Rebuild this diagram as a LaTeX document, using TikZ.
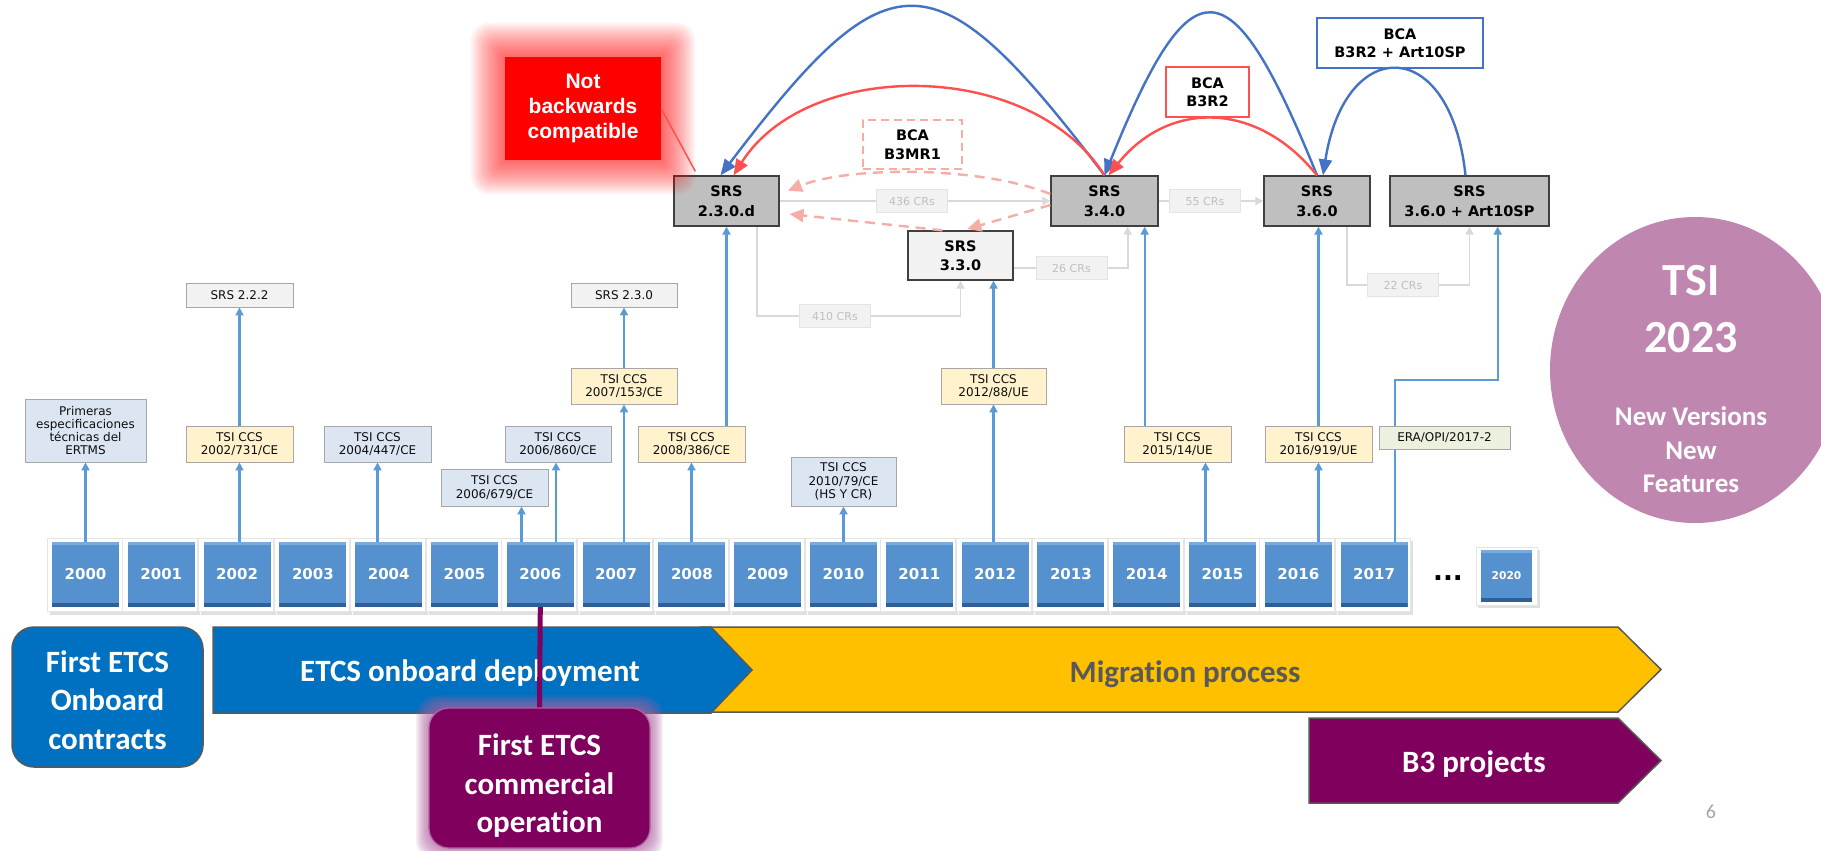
\documentclass[tikz,border=0pt]{standalone}
\usepackage{fontspec}
\setmainfont{DejaVu Sans}
\newfontfamily\calf{Carlito}[Ligatures=NoCommon]
\newfontfamily\arf{Liberation Sans}
\usetikzlibrary{arrows.meta,shapes.geometric,calc}
\definecolor{etcsblue}{HTML}{0070C0}
\definecolor{migyel}{HTML}{FFC000}
\definecolor{migtext}{HTML}{595959}
\definecolor{b3purple}{HTML}{80005E}
\definecolor{comglow}{HTML}{B060A0}
\definecolor{edge}{HTML}{595959}
\definecolor{yrblue}{HTML}{5591CE}
\definecolor{yrdark}{HTML}{2F5F93}
\definecolor{yrlight}{HTML}{7AAADB}
\definecolor{tsipink}{HTML}{BF87AF}
\definecolor{arcblue}{HTML}{4472C4}
\definecolor{arcred}{HTML}{FF4F4F}
\definecolor{pale}{HTML}{F6ADA5}
\definecolor{upblue}{HTML}{5B9BD5}
\definecolor{crgray}{HTML}{D9D9D9}
\definecolor{crfill}{HTML}{F2F2F2}
\definecolor{crborder}{HTML}{E4E4E4}
\definecolor{crtext}{HTML}{BFBFBF}
\definecolor{lb}{HTML}{DCE6F2}
\definecolor{yl}{HTML}{FFF2CC}
\definecolor{gr}{HTML}{F2F2F2}
\definecolor{gn}{HTML}{EBF1DE}
\definecolor{smborder}{HTML}{A6A6A6}
\definecolor{smtext}{HTML}{0D0D0D}
\definecolor{srsgray}{HTML}{BFBFBF}
\definecolor{srslight}{HTML}{F2F2F2}
\definecolor{srsborder}{HTML}{404040}
\definecolor{bcared}{HTML}{FF5050}
\begin{document}
\begin{tikzpicture}[x=1pt,y=-1pt,
  srs/.style={draw=srsborder, line width=1.3pt, fill=srsgray, font=\bfseries\fontsize{14.5}{19.5}\selectfont, align=center, inner sep=0pt, minimum height=50pt},
  sm/.style={draw=smborder, line width=0.9pt, font=\fontsize{12}{13.3}\selectfont, text=smtext, align=center, inner sep=0pt, minimum width=107pt, minimum height=36pt},
  crl/.style={fill=crfill, draw=crborder, line width=1pt, text=crtext, font=\fontsize{11}{13}\selectfont, inner sep=0pt, minimum width=71pt, minimum height=23pt},
  upa/.style={draw=upblue, line width=2.2pt, -{Triangle[length=8pt,width=8pt]}},
  crline/.style={draw=crgray, line width=1.8pt},
  cra/.style={crline, -{Triangle[length=8pt,width=8pt]}},
  bca/.style={fill=white, line width=2pt, font=\bfseries\fontsize{14.5}{18.5}\selectfont, align=center, inner sep=0pt, minimum height=50pt},
  bigarc/.style={line width=2.4pt, -{Triangle[length=16pt,width=13pt]}},
  dsh/.style={draw=pale, line width=2.4pt, dash pattern=on 10pt off 7pt, -{Triangle[length=14pt,width=13pt]}},
  yr/.style={fill=yrblue, text=white, font=\bfseries\fontsize{15}{18}\selectfont, minimum width=67pt, minimum height=65pt, inner sep=0pt,
     path picture={\fill[yrdark] (path picture bounding box.south west) rectangle ([yshift=4pt]path picture bounding box.south east);
                   \fill[yrlight] (path picture bounding box.north west) rectangle ([yshift=-3pt]path picture bounding box.north east);}},
  bigtxt/.style={font=\calf\bfseries\fontsize{31}{38.5}\selectfont, inner sep=0pt},
  tsit/.style={text=white, inner sep=0pt, anchor=base}
]
\useasboundingbox (0,0) rectangle (1821,851);
\clip (0,0) rectangle (1821,851);
\fill[white] (0,0) rectangle (1821,851);

% ---------- SRS boxes ----------
\node[srs, minimum width=105pt] (srs230d) at (726.5,201) {SRS\\2.3.0.d};
\node[srs, minimum width=107pt] (srs340) at (1104.5,201) {SRS\\3.4.0};
\node[srs, fill=srslight, minimum width=105pt, minimum height=49pt] (srs330) at (960.5,255.5) {SRS\\3.3.0};
\node[srs, minimum width=106pt] (srs360) at (1317,201) {SRS\\3.6.0};
\node[srs, minimum width=159pt] (srsart) at (1469.5,201) {SRS\\3.6.0 + Art10SP};

% ---------- CR connectors ----------
\node[crl] (cr436) at (912,201) {436 CRs};
\node[crl] (cr55) at (1205,201) {55 CRs};
\node[crl] (cr410) at (835,316) {410 CRs};
\node[crl] (cr26) at (1071.5,268) {26 CRs};
\node[crl] (cr22) at (1403,285) {22 CRs};
\draw[crline] (srs230d.east) -- (cr436.west);
\draw[cra] (cr436.east) -- (srs340.west);
\draw[crline] (srs340.east) -- (cr55.west);
\draw[cra] (cr55.east) -- (srs360.west);
\draw[crline] ($(srs230d.south east)+(-23,0)$) |- (cr410.west);
\draw[cra] (cr410.east) -| (srs330.south);
\draw[crline] (srs330.east |- cr26.west) -- (cr26.west);
\draw[cra] (cr26.east) -| ($(srs340.south east)+(-31,0)$);
\draw[crline] ($(srs360.south east)+(-24,0)$) |- (cr22.west);
\draw[cra] (cr22.east) -| (srsart.south);

% ---------- BCA boxes ----------
\node[bca, draw=pale, dash pattern=on 8pt off 5pt, minimum width=99pt, minimum height=49pt] (bca1) at (912.5,144.5) {BCA\\B3MR1};
\node[bca, draw=bcared, minimum width=83pt] (bca2) at (1207.5,92) {BCA\\B3R2};
\node[bca, draw=arcblue, minimum width=166pt] (bca3) at (1400,43) {BCA\\B3R2 + Art10SP};

% dashed pale arrows
\draw[dsh, shorten >=9pt] ($(srs340.west)+(0,-7)$) .. controls +(-70,-28) and +(70,-28) .. ($(srs230d.east)+(0,-7)$);
\draw[dsh, shorten >=5pt] ($(srs340.west)+(0,4)$) -- ($(srs330.north)+(2,0)$);
\draw[dsh, shorten >=10pt] ($(srs330.north)+(-18,0)$) -- ($(srs230d.east)+(0,12)$);

% ---------- Not backwards compatible (glow) ----------
\foreach \k in {1,...,18} {\fill[red, opacity=0.045, rounded corners=\k pt] (505-1.9*\k,57-1.9*\k) rectangle (661+1.9*\k,160+1.9*\k);}
\node[fill=red, text=white, font=\arf\bfseries\fontsize{21}{25}\selectfont, align=center, minimum width=156pt, minimum height=103pt, inner sep=0pt] (nbc) at (583,108.5) {Not\\backwards\\compatible};
\draw[arcred, line width=1.5pt] (nbc.east) -- ($(srs230d.north west)+(22,-4)$);

% big arcs
\draw[bigarc, arcblue] (srs340.north) .. controls +(-170,-224) and +(170,-224) .. ($(srs230d.north)+(-6,0)$);
\draw[bigarc, arcred] (srs340.north) .. controls +(-74,-117) and +(74,-117) .. ($(srs230d.north)+(7,0)$);
\draw[bigarc, arcblue] (srs360.north) .. controls +(-87,-215) and +(87,-215) .. (srs340.north);
\draw[bigarc, arcred] (srs360.north) .. controls +(-60,-75) and +(60,-75) .. ($(srs340.north)+(4,0)$);
\draw[bigarc, arcblue] ($(srsart.north)+(-4,0)$) .. controls +(-15,-141) and +(22,-141) .. ($(srs360.north)+(6,0)$);

% ---------- year boxes ----------
\foreach \i in {0,...,17} {
  \pgfmathsetmacro\cx{85.5+75.8*\i}
  \pgfmathtruncatemacro\yr{2000+\i}
  \fill[black!12] (\cx-36,541) rectangle (\cx+39,615);
  \fill[white] (\cx-38.5,538) rectangle (\cx+36.5,611);
  \draw[black!10, line width=0.8pt] (\cx-38.5,538) rectangle (\cx+36.5,611);
  \node[yr] (y\yr) at (\cx,574.5) {\yr};
}
\fill[black!12] (1478,550) rectangle (1540,608);
\fill[white] (1476,547) rectangle (1537,605);
\draw[black!10, line width=0.8pt] (1476,547) rectangle (1537,605);
\node[yr, minimum width=51pt, minimum height=52pt, font=\bfseries\fontsize{10.7}{12}\selectfont] (y2020) at (1506.5,576) {2020};
\node[font=\bfseries\fontsize{26}{28}\selectfont, inner sep=0pt] (dots) at (1448,578) {...};

% ERA elbow line (under the ERA box)
\coordinate (elb) at (1395,380);
\draw[upa] (elb |- y2017.north) -- (elb) -| ($(srsart.south east)+(-52,0)$);

% ---------- small boxes ----------
\node[sm, fill=lb, minimum width=121pt, minimum height=63pt] (prim) at (85.5,430.5) {Primeras\\especificaciones\\técnicas del\\ERTMS};
\node[sm, fill=gr, minimum height=24pt] (srs222) at (239.5,295) {SRS 2.2.2};
\node[sm, fill=yl] (tsi2002) at (239.5,444) {TSI CCS\\2002/731/CE};
\node[sm, fill=lb] (tsi2004) at (377.5,444) {TSI CCS\\2004/447/CE};
\node[sm, fill=lb, minimum height=37pt] (tsi2006a) at (494.5,487.5) {TSI CCS\\2006/679/CE};
\node[sm, fill=lb, minimum width=106pt] (tsi2006b) at (558,444) {TSI CCS\\2006/860/CE};
\node[sm, fill=gr, minimum width=106pt, minimum height=24pt] (srs230) at (624,295) {SRS 2.3.0};
\node[sm, fill=yl, minimum width=106pt] (tsi2007) at (624,386) {TSI CCS\\2007/153/CE};
\node[sm, fill=yl] (tsi2008) at (691.5,444) {TSI CCS\\2008/386/CE};
\node[sm, fill=lb, minimum width=105pt, minimum height=49pt] (tsi2010) at (843.5,481.5) {TSI CCS\\2010/79/CE\\(HS Y CR)};
\node[sm, fill=yl, minimum width=105pt] (tsi2012) at (993.5,386) {TSI CCS\\2012/88/UE};
\node[sm, fill=yl] (tsi2015) at (1177.5,444) {TSI CCS\\2015/14/UE};
\node[sm, fill=yl] (tsi2016) at (1318.5,444) {TSI CCS\\2016/919/UE};
\node[sm, fill=gn, minimum width=131pt, minimum height=23pt] (era) at (1444.5,437.5) {ERA/OPI/2017-2};

% ---------- blue arrows ----------
\draw[upa] (prim.south |- y2000.north) -- (prim.south);
\draw[upa] (tsi2002.south |- y2002.north) -- (tsi2002.south);
\draw[upa] (tsi2002.north) -- (srs222.south);
\draw[upa] (tsi2004.south |- y2004.north) -- (tsi2004.south);
\draw[upa] ($(tsi2006a.south |- y2006.north)+(27,0)$) -- ($(tsi2006a.south)+(27,0)$);
\draw[upa] ($(tsi2006b.south |- y2006.north)+(-2,0)$) -- ($(tsi2006b.south)+(-2,0)$);
\draw[upa] (tsi2007.south |- y2007.north) -- (tsi2007.south);
\draw[upa] (tsi2007.north) -- (srs230.south);
\draw[upa] (tsi2008.south |- y2008.north) -- (tsi2008.south);
\draw[upa] (srs230d.south |- tsi2008.north) -- (srs230d.south);
\draw[upa] (tsi2010.south |- y2010.north) -- (tsi2010.south);
\draw[upa] (tsi2012.south |- y2012.north) -- (tsi2012.south);
\draw[upa] (tsi2012.north) -- (tsi2012.north |- srs330.south);
\draw[upa] ($(tsi2015.south |- y2015.north)+(28,0)$) -- ($(tsi2015.south)+(28,0)$);
\draw[upa] ($(srs340.south east |- tsi2015.north)+(-14,0)$) -- ($(srs340.south east)+(-14,0)$);
\draw[upa] (tsi2016.south |- y2016.north) -- (tsi2016.south);
\draw[upa] (tsi2016.north) -- (tsi2016.north |- srs360.south);

% ---------- TSI 2023 ----------
\node[ellipse, fill=tsipink, minimum width=290pt, minimum height=306pt, inner sep=0pt] (tsi) at (1695,370) {};
\node[tsit, font=\calf\bfseries\fontsize{46}{50}\selectfont] (tsia) at (1691,295) {TSI};
\node[tsit, font=\calf\bfseries\fontsize{46}{50}\selectfont] (tsib) at (1691,352) {2023};
\node[tsit, font=\calf\bfseries\fontsize{27}{30}\selectfont] (tsic) at (1691,425) {New Versions};
\node[tsit, font=\calf\bfseries\fontsize{27}{30}\selectfont] (tsid) at (1691,459) {New};
\node[tsit, font=\calf\bfseries\fontsize{27}{30}\selectfont] (tsie) at (1691,492) {Features};

% ---------- bottom bars ----------
\draw[draw=edge, line width=1.5pt, fill=migyel] (700,627) -- (1618,627) -- (1661,669.5) -- (1618,712) -- (700,712) -- cycle;
\draw[draw=edge, line width=1.5pt, fill=etcsblue] (213,627) -- (711,627) -- (752,670) -- (711,713) -- (213,713) -- cycle;
\node[bigtxt, text=white, anchor=base] (deploy) at (470,681) {ETCS onboard deployment};
\node[bigtxt, text=migtext, anchor=base] (migr) at (1185,682) {Migration process};
\draw[draw=edge, line width=1.5pt, fill=b3purple] (1309,718) -- (1618,718) -- (1661,760.5) -- (1618,803) -- (1309,803) -- cycle;
\node[bigtxt, text=white, anchor=base] (b3) at (1474,772) {B3 projects};

\node[bigtxt, fill=etcsblue, draw=edge, line width=1.5pt, rounded corners=22pt, minimum width=191pt, minimum height=140pt, text=white, align=center] (onb) at (107.5,697) {\rule{0pt}{28pt}First ETCS\\Onboard\\contracts};

\foreach \k in {1,...,8} {\fill[comglow, opacity=0.12, rounded corners=20pt] (429-1.6*\k,708-1.6*\k) rectangle (650+1.6*\k,848+1.6*\k);}
\draw[b3purple, line width=5pt] (y2006.south) -- (539.5,708);
\node[bigtxt, fill=b3purple, draw=comglow, line width=1.2pt, rounded corners=20pt, minimum width=221pt, minimum height=140pt, text=white, align=center] (com) at (539.5,778) {\rule{0pt}{37pt}First ETCS\\commercial\\operation};

\node[font=\calf\fontsize{20}{24}\selectfont, text=black!35, anchor=base, inner sep=0pt] (pg) at (1711,818) {6};
\end{tikzpicture}
\end{document}
